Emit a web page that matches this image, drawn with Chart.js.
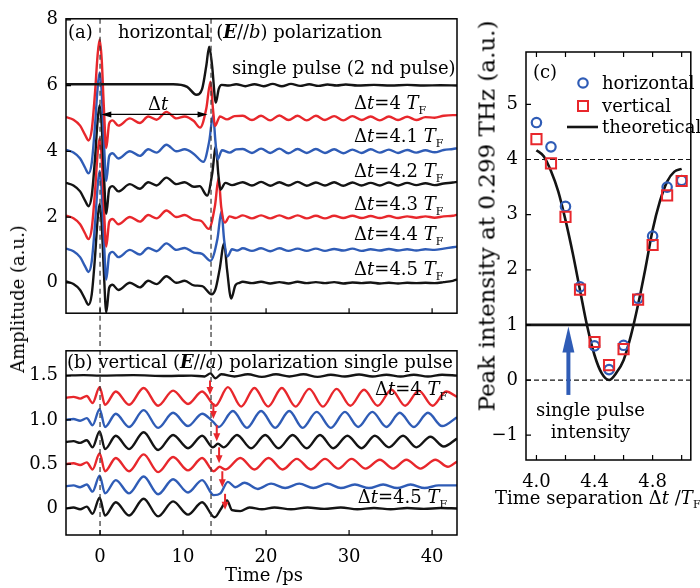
<!DOCTYPE html>
<html>
<head>
<meta charset="utf-8">
<script src="https://cdn.jsdelivr.net/npm/chart.js@4.4.1/dist/chart.umd.min.js"></script>
<style>
  body { margin: 0; background: #fff; width: 700px; height: 588px; overflow: hidden; position: relative; font-family: 'DejaVu Serif', serif; }
  canvas { position: absolute; }
  .t { position: absolute; white-space: nowrap; font-size: 18px; line-height: 1; color: #000; }
  .sub { font-size: 11px; position: relative; top: 4px; }
</style>
</head>
<body>
<canvas id="ca" width="470" height="332" style="left:0;top:0"></canvas>
<canvas id="cb" width="470" height="256" style="left:0;top:332px"></canvas>
<canvas id="cc" width="230" height="588" style="left:470px;top:0"></canvas>
<div class="t" style="left:18px;top:299px;transform:translate(-50%,-50%) rotate(-90deg)">Amplitude (a.u.)</div>
<div class="t" style="left:487px;top:216px;font-size:23px;transform:translate(-50%,-50%) rotate(-90deg)">Peak intensity at 0.299 THz (a.u.)</div>
<div class="t" style="left:264px;top:575px;transform:translate(-50%,-50%)">Time /ps</div>
<div class="t" style="left:495px;top:498px;transform:translateY(-50%)">Time separation Δ<i>t</i> /<i>T</i><span class="sub">F</span></div>
<script>
/* three panels: (a) horizontal traces, (b) vertical traces, (c) peak intensity vs separation */
(function () {
  var BLACK = '#141414', RED = '#e8272c', BLUE = '#2f5cb6';

  // ---- axes ----
  var T_MIN = -4.1, T_MAX = 43.0;
  var A_MIN = -0.925, A_MAX = 8.03;
  var B_MIN = -0.30, B_MAX = 1.78;
  var C_XMIN = 3.928, C_XMAX = 5.063, C_YMIN = -1.45, C_YMAX = 5.95;
  var TICKS_T = [0, 10, 20, 30, 40];
  var TICKS_A_Y = [0, 2, 4, 6, 8];
  var TICKS_B_Y = [0, 0.5, 1.0, 1.5];
  var TICKS_C_X = [4.0, 4.2, 4.4, 4.6, 4.8, 5.0];
  var LABELED_C_X = [4.0, 4.4, 4.8];
  var TICKS_C_Y = [-1, 0, 1, 2, 3, 4, 5];

  // ---- panel (a): offsets and shapes, values relative to each baseline ----
  var BASE_A = [5, 4, 3, 2, 1, 0];
  var COLORS_A = [RED, BLUE, BLACK, RED, BLUE, BLACK];
  var DT_NAMES = ['4', '4.1', '4.2', '4.3', '4.4', '4.5'];
  var SINGLE_A = [[-4.1, 0.04], [0, 0.04], [5, 0.04], [8.8, 0.04], [10.5, -0.04], [11.6, -0.28], [12.3, -0.1], [12.8, 0.6],
    [13.15, 1.18], [13.5, 0.6], [13.95, -0.52], [14.3, -0.1], [14.65, 0.02], [15.5, 0.0], [16.4, 0.04], [17.5, -0.02],
    [18.6, 0.04], [19.7, -0.02], [20.8, 0.05], [21.9, -0.02], [23, 0.05], [24.1, -0.01], [25.2, 0.04], [26.3, -0.01],
    [27.4, 0.03], [28.5, 0.0], [29.6, 0.03], [31, 0.0], [33, 0.02], [35, 0.0], [37, 0.02], [39, 0.0], [41, 0.01], [43, 0.0]];
  var PRE_A = [[-4.1, 0.04], [-3.2, -0.04], [-2.4, -0.22], [-1.8, -0.5], [-1.4, -0.67], [-1.0, -0.35], [-0.6, 0.8], [-0.3, 1.9],
    [-0.05, 2.4], [0.2, 1.8], [0.45, 0.4], [0.75, -0.9], [1.1, -0.15], [1.5, -0.06], [2.2, -0.22], [3.6, 0.0], [4.8, -0.14],
    [5.8, 0.06], [6.8, -0.04], [8.0, 0.2], [9.2, 0.0], [10.2, 0.06], [11.3, -0.08]];
  var SEC_A = [
    [[12.05, -0.28], [12.8, 0.3], [13.3, 1.12], [13.6, 0.3], [13.85, -0.23], [14.45, 0.06], [15.3, -0.03], [16.2, 0.07]],
    [[12.45, -0.32], [13.15, 0.3], [13.62, 1.1], [13.9, 0.3], [14.15, -0.24], [14.7, 0.03], [15.6, -0.04], [16.4, 0.06]],
    [[12.0, -0.06], [12.9, -0.35], [13.5, 0.3], [13.95, 1.14], [14.25, 0.3], [14.5, -0.17], [15.1, 0.04], [15.9, -0.03]],
    [[12.2, -0.12], [13.1, -0.36], [13.85, 0.35], [14.28, 1.18], [14.6, 0.3], [15.05, -0.17], [15.6, 0.02], [16.3, -0.03]],
    [[12.3, -0.12], [13.3, -0.33], [14.15, 0.35], [14.62, 1.17], [14.95, 0.3], [15.35, -0.2], [15.9, 0.02], [16.5, -0.02]],
    [[12.3, -0.1], [13.45, -0.35], [13.9, -0.2], [14.4, 0.4], [14.95, 1.2], [15.3, 0.4], [15.8, -0.48], [16.3, -0.08], [16.8, 0.0]]
  ];
  var TAIL_T_A = [17.2, 18.3, 19.4, 20.5, 21.6, 22.7, 23.8, 24.9, 26.0, 27.1, 28.2, 29.3, 30.4, 31.5, 32.6, 33.7, 34.8, 35.9,
    37.0, 38.1, 39.2, 40.3, 41.4, 42.5, 43.0];
  var TAIL_A = [
    [0.08, -0.05, 0.08, -0.06, 0.09, -0.05, 0.08, -0.06, 0.08, -0.05, 0.07, -0.06, 0.07, -0.05, 0.06, -0.06, 0.06, -0.05, 0.05, -0.05, 0.04, 0.02, 0.08, 0.1, 0.1],
    [0.07, -0.05, 0.08, -0.05, 0.08, -0.06, 0.07, -0.05, 0.07, -0.05, 0.06, -0.06, 0.05, -0.05, 0.06, -0.04, 0.05, -0.05, 0.04, -0.04, 0.03, -0.03, 0.04, 0.07, 0.09],
    [0.06, -0.04, 0.07, -0.05, 0.06, -0.04, 0.07, -0.05, 0.05, -0.04, 0.06, -0.05, 0.05, -0.04, 0.04, -0.04, 0.05, -0.04, 0.04, -0.03, 0.03, -0.03, 0.02, 0.05, 0.07],
    [0.05, -0.04, 0.05, -0.04, 0.05, -0.04, 0.05, -0.04, 0.04, -0.04, 0.04, -0.03, 0.04, -0.03, 0.03, -0.03, 0.03, -0.03, 0.02, -0.02, 0.02, -0.02, 0.02, 0.04, 0.07],
    [0.05, -0.03, 0.05, -0.04, 0.05, -0.03, 0.04, -0.03, 0.04, -0.03, 0.03, -0.02, 0.04, -0.03, 0.02, -0.02, 0.03, -0.02, 0.02, -0.02, 0.02, 0.0, 0.04, 0.08, 0.1],
    [0.03, -0.01, 0.03, -0.02, 0.02, -0.02, 0.03, -0.01, 0.02, -0.01, 0.02, -0.02, 0.01, -0.01, 0.01, -0.02, 0.0, -0.02, 0.0, -0.01, 0.0, -0.01, 0.02, 0.06, 0.1]
  ];
  var LABEL_T_A = 30.6, LABEL_V_A = [5.49, 4.48, 3.42, 2.41, 1.49, 0.43];
  var SINGLE_LABEL_T = 15.9, SINGLE_LABEL_V = 6.56;
  var DT_ARROW = { t0: 0.15, t1: 12.95, v: 5.12, textT: 7.0, textV: 5.46 };
  var DASH_T = [0, 13.37];

  // ---- panel (b) ----
  var BASE_B = [1.25, 1.0, 0.75, 0.5, 0.25, 0];
  var SINGLE_B = [[-4.1, 0], [-2, 0.005], [0, 0.0], [4, 0.005], [8, -0.005], [11, 0.0], [12.6, -0.01], [13.3, 0.025], [13.9, -0.03],
    [14.6, 0.015], [16.2, -0.01], [17.8, 0.015], [19.5, -0.015], [21.2, 0.015], [22.8, -0.01], [24.5, 0.015], [26.2, -0.015],
    [27.8, 0.01], [29.5, -0.01], [31.2, 0.012], [32.8, -0.01], [34.5, 0.01], [36.2, -0.01], [37.8, 0.01], [39.5, -0.01], [41.2, 0.01], [43, 0.0]];
  var PRE_B = [[-4.1, 0.0], [-3.2, 0.01], [-2.4, -0.01], [-1.6, 0.02], [-0.9, -0.06], [-0.05, 0.12], [0.6, -0.08], [1.9, 0.07],
    [3.5, -0.08], [5.25, 0.11], [7.0, -0.09], [8.8, 0.08], [10.6, -0.07], [12.3, 0.07]];
  var POST_B = [
    [[13.9, -0.09], [15.4, 0.12], [17.0, -0.1], [18.6, 0.11], [20.25, -0.1], [21.9, 0.11], [23.55, -0.1], [25.2, 0.1], [26.85, -0.1], [28.5, 0.1],
      [30.15, -0.09], [31.8, 0.09], [33.45, -0.09], [35.1, 0.09], [36.75, -0.09], [38.4, 0.08], [40.05, -0.09], [41.7, 0.07], [43.0, 0.01]],
    [[13.6, -0.02], [14.3, -0.08], [16.0, 0.10], [17.7, -0.09], [19.4, 0.10], [21.1, -0.09], [22.8, 0.10], [24.4, -0.09], [26.1, 0.09], [27.8, -0.09],
      [29.5, 0.09], [31.1, -0.08], [32.8, 0.09], [34.5, -0.08], [36.1, 0.08], [37.8, -0.08], [39.5, 0.08], [41.2, -0.07], [43.0, 0.03]],
    [[13.6, -0.06], [14.2, -0.02], [14.9, -0.06], [16.5, 0.08], [18.2, -0.07], [19.9, 0.08], [21.5, -0.07], [23.2, 0.08], [24.9, -0.07], [26.5, 0.08],
      [28.1, -0.07], [29.8, 0.07], [31.5, -0.07], [33.1, 0.07], [34.8, -0.06], [36.5, 0.07], [38.1, -0.06], [39.8, 0.06], [41.4, -0.05], [43.0, 0.04]],
    [[13.7, -0.08], [14.4, -0.03], [15.1, -0.06], [16.9, 0.07], [18.6, -0.06], [20.3, 0.07], [22.0, -0.06], [23.7, 0.06], [25.4, -0.06], [27.1, 0.06],
      [28.7, -0.05], [30.3, 0.06], [32.0, -0.05], [33.7, 0.05], [35.3, -0.05], [36.9, 0.05], [38.6, -0.05], [40.4, 0.05], [41.9, -0.03], [43.0, 0.03]],
    [[13.7, -0.1], [14.5, -0.08], [15.4, 0.05], [16.3, -0.01], [17.4, 0.04], [19.0, -0.03], [20.6, 0.03], [22.3, -0.02], [24.0, 0.03], [25.7, -0.02],
      [27.4, 0.03], [29.0, -0.02], [30.7, 0.02], [32.4, -0.02], [34.1, 0.02], [35.8, -0.02], [37.4, 0.02], [39.1, -0.02], [40.8, 0.01], [43.0, 0.01]],
    [[13.8, -0.1], [14.6, 0.0], [15.3, 0.09], [15.9, -0.02], [16.9, -0.03], [18.0, 0.01], [19.5, -0.01], [21.0, 0.01], [23.0, -0.01], [25.0, 0.01],
      [27.0, -0.005], [29.0, 0.01], [31.0, -0.01], [33.0, 0.005], [35.0, -0.01], [37.0, 0.005], [39.0, -0.005], [41.0, 0.005], [43.0, 0.0]]
  ];
  var ARROW_T_B = [13.25, 13.65, 14.06, 14.34, 14.73, 15.06];
  var ARROW_TOP_B = [1.445, 1.19, 0.94, 0.69, 0.42, 0.165];
  var ARROW_TIP_B = [1.28, 1.01, 0.76, 0.51, 0.24, -0.014];
  var LABEL_T_B = 41.8, LABEL_V_B = [1.35, 0.13], LABEL_N_B = ['4', '4.5'];

  // ---- panel (c) ----
  var DT_C = [4.0, 4.1, 4.2, 4.3, 4.4, 4.5, 4.6, 4.7, 4.8, 4.9, 5.0];
  var HORIZ_C = [4.67, 4.23, 3.15, 1.69, 0.62, 0.19, 0.63, 1.48, 2.61, 3.50, 3.62];
  var VERT_C = [4.37, 3.93, 2.96, 1.64, 0.69, 0.27, 0.56, 1.46, 2.45, 3.35, 3.61];
  var THEO_T = [4.0, 4.05, 4.1, 4.15, 4.2, 4.25, 4.3, 4.35, 4.4, 4.45, 4.5, 4.55, 4.6, 4.65, 4.7, 4.75, 4.8, 4.85, 4.9, 4.95, 5.0];
  var THEO_V = [4.17, 4.06, 3.79, 3.42, 2.9, 2.3, 1.63, 0.97, 0.45, 0.12, 0.0, 0.13, 0.36, 0.8, 1.37, 2.02, 2.72, 3.24, 3.6, 3.78, 3.83];
  var DASH_LEVELS_C = [4, 0];
  var SINGLE_LEVEL_C = 1;
  var BLUE_ARROW_C = { x: 4.22, from: -0.27, to: 0.97 };
  var NOTE_C = { x: 4.372, y1: -0.54, y2: -0.93 };

  Chart.defaults.font.family = 'DejaVu Serif';
  Chart.defaults.font.size = 18;
  Chart.defaults.color = '#000';

  function pts(list, base) { return list.map(function (p) { return { x: p[0], y: base + p[1] }; }); }
  function traceA(i) {
    var tail = TAIL_T_A.map(function (t, j) { return [t, TAIL_A[i][j]]; });
    return pts(PRE_A.concat(SEC_A[i], tail), BASE_A[i]);
  }
  function traceB(i) { return pts(PRE_B.concat(POST_B[i]), BASE_B[i]); }
  function lineSet(data, color) {
    return { data: data, borderColor: color, borderWidth: 2.4, pointRadius: 0, cubicInterpolationMode: 'monotone', fill: false };
  }

  function fontFor(style, size) {
    if (style === 'i') return 'italic ' + size + 'px "DejaVu Serif"';
    if (style === 'bi') return 'italic bold ' + size + 'px "DejaVu Serif"';
    if (style === 's') return Math.round(size * 0.62) + 'px "DejaVu Serif"';
    return size + 'px "DejaVu Serif"';
  }
  function drawRich(ctx, parts, x, yc, align, size) {
    size = size || 18;
    var w = 0, y = yc + size * 0.36;
    parts.forEach(function (p) { ctx.font = fontFor(p[1], size); w += ctx.measureText(p[0]).width; });
    var cx = align === 'right' ? x - w : (align === 'center' ? x - w / 2 : x);
    ctx.textAlign = 'left'; ctx.textBaseline = 'alphabetic'; ctx.fillStyle = '#000';
    parts.forEach(function (p) {
      ctx.font = fontFor(p[1], size);
      ctx.fillText(p[0], cx, p[1] === 's' ? y + size * 0.28 : y);
      cx += ctx.measureText(p[0]).width;
    });
  }
  function dtParts(n) { return [['Δ', ''], ['t', 'i'], ['=' + n + ' ', ''], ['T', 'i'], ['F', 's']]; }

  function head(ctx, x, y, dx, dy, len, half) {
    ctx.beginPath();
    ctx.moveTo(x, y);
    ctx.lineTo(x - dx * len - dy * half, y - dy * len + dx * half);
    ctx.lineTo(x - dx * len + dy * half, y - dy * len - dx * half);
    ctx.closePath(); ctx.fill();
  }

  function frame(chart, ticksTop) {
    var ctx = chart.ctx, a = chart.chartArea, sx = chart.scales.x, sy = chart.scales.y;
    ctx.save();
    ctx.strokeStyle = '#000'; ctx.lineWidth = 1.5;
    ctx.strokeRect(a.left, a.top, a.right - a.left, a.bottom - a.top);
    ctx.lineWidth = 1.2;
    ctx.beginPath();
    sx.ticks.forEach(function (t) {
      var px = sx.getPixelForValue(t.value);
      ctx.moveTo(px, a.bottom); ctx.lineTo(px, a.bottom - 5);
      if (ticksTop) { ctx.moveTo(px, a.top); ctx.lineTo(px, a.top + 5); }
    });
    sy.ticks.forEach(function (t) {
      var py = sy.getPixelForValue(t.value);
      ctx.moveTo(a.left, py); ctx.lineTo(a.left + 5, py);
    });
    ctx.stroke();
    ctx.restore();
  }
  function dashes(chart, y0, y1) {
    var ctx = chart.ctx, sx = chart.scales.x;
    ctx.save();
    ctx.strokeStyle = '#333'; ctx.lineWidth = 1.2; ctx.setLineDash([5, 4]);
    DASH_T.forEach(function (t) {
      var px = sx.getPixelForValue(t);
      ctx.beginPath(); ctx.moveTo(px, y0); ctx.lineTo(px, y1); ctx.stroke();
    });
    ctx.restore();
  }

  function scale(min, max, ticks, fmt, showLabels, size, pad) {
    return {
      type: 'linear', min: min, max: max,
      grid: { display: false, drawTicks: false }, border: { display: false },
      afterBuildTicks: function (s) { s.ticks = ticks.map(function (v) { return { value: v }; }); },
      afterFit: size,
      ticks: { display: showLabels, padding: pad || 8, color: '#000', font: { size: 18 }, callback: fmt,
        maxRotation: 0, minRotation: 0, autoSkip: false }
    };
  }
  function common(padding, scales) {
    return {
      responsive: false, animation: false, events: [],
      layout: { padding: padding },
      plugins: { legend: { display: false }, tooltip: { enabled: false } },
      scales: scales
    };
  }
  function num(v) { return String(v); }

  // ---- chart (a) ----
  var dsA = [lineSet(pts(SINGLE_A, 6), BLACK)];
  BASE_A.forEach(function (_, i) { dsA.push(lineSet(traceA(i), COLORS_A[i])); });
  new Chart(document.getElementById('ca'), {
    type: 'line',
    data: { datasets: dsA },
    options: common({ top: 12, right: 13, left: 0, bottom: 0 }, {
      x: scale(T_MIN, T_MAX, TICKS_T, num, false, function (s) { s.height = 10; }),
      y: scale(A_MIN, A_MAX, TICKS_A_Y, num, true, function (s) { s.width = 66; })
    }),
    plugins: [{
      id: 'decoA',
      afterDatasetsDraw: function (chart) {
        var ctx = chart.ctx, a = chart.chartArea, sx = chart.scales.x, sy = chart.scales.y;
        dashes(chart, a.top, chart.height);
        frame(chart, false);
        // Δt double arrow
        ctx.save();
        ctx.strokeStyle = '#000'; ctx.fillStyle = '#000'; ctx.lineWidth = 1.2;
        var x0 = sx.getPixelForValue(DT_ARROW.t0), x1 = sx.getPixelForValue(DT_ARROW.t1), ya = sy.getPixelForValue(DT_ARROW.v);
        ctx.beginPath(); ctx.moveTo(x0 + 4, ya); ctx.lineTo(x1 - 4, ya); ctx.stroke();
        head(ctx, x0, ya, -1, 0, 10, 3); head(ctx, x1, ya, 1, 0, 10, 3);
        drawRich(ctx, [['Δ', ''], ['t', 'i']], sx.getPixelForValue(DT_ARROW.textT), sy.getPixelForValue(DT_ARROW.textV), 'center');
        drawRich(ctx, [['(a)', '']], a.left + 2, a.top + 13, 'left');
        drawRich(ctx, [['horizontal (', ''], ['E', 'bi'], ['//', ''], ['b', 'i'], [') polarization', '']], a.left + 52, a.top + 13, 'left');
        drawRich(ctx, [['single pulse (2 nd pulse)', '']], sx.getPixelForValue(SINGLE_LABEL_T), sy.getPixelForValue(SINGLE_LABEL_V), 'left');
        LABEL_V_A.forEach(function (v, i) {
          drawRich(ctx, dtParts(DT_NAMES[i]), sx.getPixelForValue(LABEL_T_A), sy.getPixelForValue(v), 'left');
        });
        ctx.restore();
      }
    }]
  });

  // ---- chart (b) ----
  var dsB = [lineSet(pts(SINGLE_B, 1.5), BLACK)];
  BASE_B.forEach(function (_, i) { dsB.push(lineSet(traceB(i), COLORS_A[i])); });
  new Chart(document.getElementById('cb'), {
    type: 'line',
    data: { datasets: dsB },
    options: common({ top: 10, right: 13, left: 0, bottom: 0 }, {
      x: scale(T_MIN, T_MAX, TICKS_T, num, true, function (s) { s.height = 53; }, 12),
      y: scale(B_MIN, B_MAX, TICKS_B_Y, function (v) { return v === 0 ? '0' : v.toFixed(1); }, true, function (s) { s.width = 66; })
    }),
    plugins: [{
      id: 'decoB',
      afterDatasetsDraw: function (chart) {
        var ctx = chart.ctx, a = chart.chartArea, sx = chart.scales.x, sy = chart.scales.y;
        dashes(chart, 0, a.bottom);
        frame(chart, false);
        ctx.save();
        ctx.strokeStyle = RED; ctx.fillStyle = RED; ctx.lineWidth = 2;
        ARROW_T_B.forEach(function (t, i) {
          var px = sx.getPixelForValue(t), y0 = sy.getPixelForValue(ARROW_TOP_B[i]), y1 = sy.getPixelForValue(ARROW_TIP_B[i]);
          ctx.beginPath(); ctx.moveTo(px, y0); ctx.lineTo(px, y1 - 5); ctx.stroke();
          head(ctx, px, y1, 0, 1, 8, 3.5);
        });
        drawRich(ctx, [['(b) vertical (', ''], ['E', 'bi'], ['//', ''], ['a', 'i'], [') polarization single pulse', '']], a.left + 1, a.top + 11, 'left');
        LABEL_V_B.forEach(function (v, i) {
          drawRich(ctx, dtParts(LABEL_N_B[i]), sx.getPixelForValue(LABEL_T_B), sy.getPixelForValue(v), 'right');
        });
        ctx.restore();
      }
    }]
  });

  // ---- chart (c) ----
  function level(v, dashed, width) {
    return { data: [{ x: C_XMIN, y: v }, { x: C_XMAX, y: v }], borderColor: BLACK, borderWidth: width,
      borderDash: dashed ? [5, 3] : [], pointRadius: 0, order: 4 };
  }
  var dsC = DASH_LEVELS_C.map(function (v) { return level(v, true, 1.2); });
  dsC.push(level(SINGLE_LEVEL_C, false, 2.6));
  dsC.push({ data: THEO_T.map(function (t, i) { return { x: t, y: THEO_V[i] }; }), borderColor: BLACK, borderWidth: 2.6,
    pointRadius: 0, cubicInterpolationMode: 'monotone', order: 3 });
  dsC.push({ data: DT_C.map(function (t, i) { return { x: t, y: HORIZ_C[i] }; }), showLine: false, pointStyle: 'circle',
    pointRadius: 4.7, pointBorderWidth: 2.2, pointBorderColor: BLUE, pointBackgroundColor: 'rgba(0,0,0,0)', order: 2 });
  dsC.push({ data: DT_C.map(function (t, i) { return { x: t, y: VERT_C[i] }; }), showLine: false, pointStyle: 'rect',
    pointRadius: 7.2, pointBorderWidth: 2, pointBorderColor: RED, pointBackgroundColor: 'rgba(0,0,0,0)', order: 1 });
  new Chart(document.getElementById('cc'), {
    type: 'line',
    data: { datasets: dsC },
    options: common({ top: 52, right: 0, left: 0, bottom: 0 }, {
      x: scale(C_XMIN, C_XMAX, TICKS_C_X, function (v) { return LABELED_C_X.indexOf(v) >= 0 ? v.toFixed(1) : ''; }, true,
        function (s) { s.height = 128; }, 12),
      y: scale(C_YMIN, C_YMAX, TICKS_C_Y, function (v) { return v < 0 ? '\u2212' + Math.abs(v) : String(v); }, true,
        function (s) { s.width = 56; })
    }),
    plugins: [{
      id: 'decoC',
      afterDatasetsDraw: function (chart) {
        var ctx = chart.ctx, a = chart.chartArea, sx = chart.scales.x, sy = chart.scales.y;
        frame(chart, true);
        ctx.save();
        // blue arrow
        ctx.fillStyle = BLUE; ctx.strokeStyle = BLUE; ctx.lineWidth = 4;
        var ax = sx.getPixelForValue(BLUE_ARROW_C.x), ay0 = sy.getPixelForValue(BLUE_ARROW_C.from), ay1 = sy.getPixelForValue(BLUE_ARROW_C.to);
        ctx.beginPath(); ctx.moveTo(ax, ay0); ctx.lineTo(ax, ay1 + 20); ctx.stroke();
        head(ctx, ax, ay1, 0, -1, 26, 6);
        drawRich(ctx, [['single pulse', '']], sx.getPixelForValue(NOTE_C.x), sy.getPixelForValue(NOTE_C.y1), 'center');
        drawRich(ctx, [['intensity', '']], sx.getPixelForValue(NOTE_C.x), sy.getPixelForValue(NOTE_C.y2), 'center');
        drawRich(ctx, [['(c)', '']], a.left + 7, a.top + 20, 'left');
        // legend
        var lx = 113, tx = 132;
        ctx.strokeStyle = BLUE; ctx.lineWidth = 2.2;
        ctx.beginPath(); ctx.arc(lx, 83, 4.7, 0, Math.PI * 2); ctx.stroke();
        ctx.strokeStyle = RED; ctx.lineWidth = 2;
        ctx.strokeRect(lx - 5, 101, 10, 10);
        ctx.strokeStyle = BLACK; ctx.lineWidth = 2.6;
        ctx.beginPath(); ctx.moveTo(97, 127); ctx.lineTo(128, 127); ctx.stroke();
        drawRich(ctx, [['horizontal', '']], tx, 83, 'left');
        drawRich(ctx, [['vertical', '']], tx, 106, 'left');
        drawRich(ctx, [['theoretical', '']], tx, 127, 'left');
        ctx.restore();
      }
    }]
  });
})();
</script>
</body>
</html>
